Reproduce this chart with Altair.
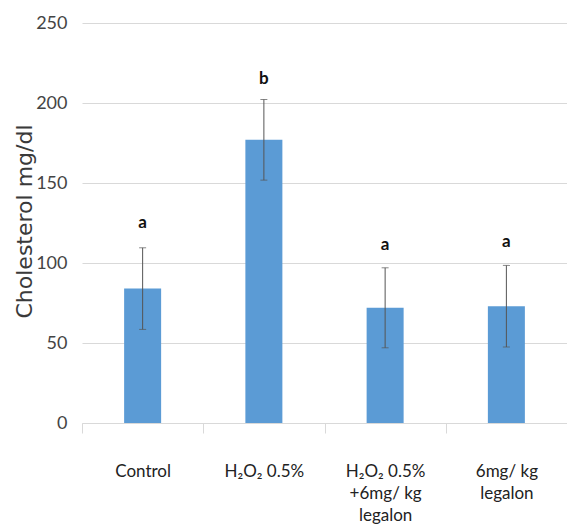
import altair as alt
import pandas as pd

groups = ["Control", "H₂O₂ 0.5%", "H₂O₂ 0.5%|+6mg/ kg|legalon", "6mg/ kg|legalon"]
means = [84, 177, 72, 73]
errors = [25.5, 25.2, 25, 25.5]
letters = ["a", "b", "a", "a"]
letter_pos = [125, 215, 111, 113]

df = pd.DataFrame({
    "group": groups,
    "mean": means,
    "lo": [m - e for m, e in zip(means, errors)],
    "hi": [m + e for m, e in zip(means, errors)],
    "letter": letters,
    "lpos": letter_pos,
})

FONT = "Lato"

x = alt.X(
    "group:N",
    sort=groups,
    scale=alt.Scale(paddingInner=0, paddingOuter=0),
    axis=alt.Axis(
        title=None,
        labelAngle=0,
        labelExpr="split(datum.label, '|')",
        labelFont=FONT,
        labelFontSize=17,
        labelColor="#222222",
        labelLineHeight=22,
        labelPadding=30,
        labelBaseline="top",
        tickBand="extent",
        tickSize=10,
        tickColor="#d9d9d9",
        domainColor="#d9d9d9",
        grid=False,
    ),
)

y_scale = alt.Scale(domain=[0, 250])

bars = alt.Chart(df).mark_bar(size=37, color="#5B9BD5").encode(
    x=x,
    y=alt.Y(
        "mean:Q",
        scale=y_scale,
        axis=alt.Axis(
            title="Cholesterol mg/dl",
            values=[0, 50, 100, 150, 200, 250],
            labelFont=FONT,
            labelFontSize=18,
            labelColor="#444444",
            labelPadding=15,
            ticks=False,
            domain=False,
            gridColor="#d9d9d9",
            titleFont="DejaVu Sans",
            titleFontSize=22,
            titleFontWeight="normal",
            titleColor="#3a3a3a",
            titleAngle=270,
            titleAlign="center",
            titleBaseline="middle",
            titleX=-58,
            titleY=198,
        ),
    ),
)

rules = alt.Chart(df).mark_rule(color="#555555", strokeWidth=1).encode(
    x=alt.X("group:N", sort=groups),
    y=alt.Y("lo:Q", scale=y_scale),
    y2="hi:Q",
)

caps_hi = alt.Chart(df).mark_tick(color="#555555", size=7, thickness=1).encode(
    x=alt.X("group:N", sort=groups),
    y=alt.Y("hi:Q", scale=y_scale),
)
caps_lo = alt.Chart(df).mark_tick(color="#555555", size=7, thickness=1).encode(
    x=alt.X("group:N", sort=groups),
    y=alt.Y("lo:Q", scale=y_scale),
)

labels = alt.Chart(df).mark_text(
    font=FONT, fontSize=17, fontWeight="bold", color="#111111", baseline="middle"
).encode(
    x=alt.X("group:N", sort=groups),
    y=alt.Y("lpos:Q", scale=y_scale),
    text="letter:N",
)

chart = alt.layer(bars, rules, caps_hi, caps_lo, labels).properties(
    width=485,
    height=400,
    background="white",
    padding={"left": 82, "top": 23, "right": 0, "bottom": 109},
    autosize=alt.AutoSizeParams(type="none"),
).configure_view(stroke=None).configure_axisY(
    domain=False, ticks=False
).configure_axis(labelFont=FONT)

chart.save("out.html", embed_options={"renderer": "svg", "actions": False})
